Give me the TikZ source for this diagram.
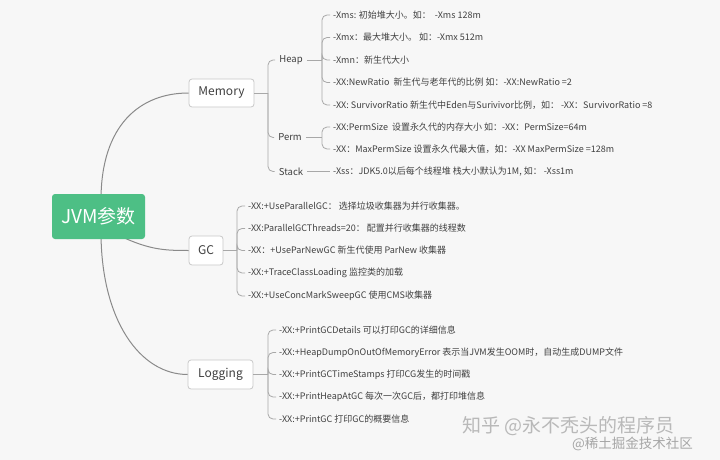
\documentclass[tikz,border=0pt]{standalone}
\usepackage{fontspec}
\setmainfont{Noto Sans CJK SC}
\definecolor{bgc}{HTML}{F7F7F7}
\definecolor{rootc}{HTML}{4DBF85}
\definecolor{linec}{HTML}{8A8A8A}
\definecolor{bracec}{HTML}{A8A8A8}
\definecolor{boxc}{HTML}{C8C8C8}
\definecolor{txtc}{HTML}{404040}
\begin{document}
\begin{tikzpicture}[x=1pt,y=-1pt,
  rootbox/.style={fill=rootc,rounded corners=3pt,minimum width=93pt,minimum height=45pt,text=white,font=\fontsize{19}{19}\selectfont,inner sep=0pt},
  topicbox/.style={fill=white,draw=boxc,line width=0.8pt,rounded corners=3pt,minimum height=28pt,inner sep=0pt,text=txtc,font=\fontsize{12}{12}\selectfont},
  subtopic/.style={text=txtc,font=\fontsize{9.5}{10}\selectfont,inner sep=0pt},
  leaf/.style={anchor=west,text=txtc,font=\fontsize{9}{10}\selectfont,inner xsep=3pt,inner ysep=0pt},
  mainline/.style={draw=linec,line width=1pt},
  brace/.style={draw=bracec,line width=0.8pt,rounded corners=5pt},
  wm/.style={text=gray!55,inner sep=0pt,anchor=west}]
\fill[bgc] (0,0) rectangle (720,460);
\useasboundingbox (0,0) rectangle (720,460);

% connectors from root (drawn first, behind the boxes)
\coordinate (rt) at (101,200);
\coordinate (rb) at (101,232);
\coordinate (rr) at (120,236);
\node[topicbox,minimum width=65pt] (mem) at (221.5,93) {Memory};
\node[topicbox,minimum width=34pt,minimum height=29pt] (gc) at (206,250.5) {GC};
\node[topicbox,minimum width=65pt,minimum height=29pt] (log) at (220.5,374.5) {Logging};
\draw[mainline] (rt) .. controls (101,125) and (140,93) .. (mem.west);
\draw[mainline] (rb) .. controls (101,320) and (140,374.5) .. (log.west);
\draw[mainline] (rr) .. controls (150,250) and (165,250.5) .. (gc.west);
\node[rootbox] (root) at (98.5,216.5) {JVM参数};

% Memory level
\node[subtopic] (heap) at (291,60) {Heap};
\node[subtopic] (perm) at (290,137.5) {Perm};
\node[subtopic] (stack) at (291,171.5) {Stack};
\coordinate (mb) at (268,93);
\draw[mainline,draw=bracec,line width=0.8pt] (mem.east) -- (mb);
\foreach \c in {heap,perm,stack}{\draw[brace] (mb) |- ([xshift=-4pt]\c.west);}

% Heap leaves
\node[leaf] (h1) at (330,15) {-Xms: 初始堆大小。如：\ \ -Xms 128m};
\node[leaf] (h2) at (330,37.5) {-Xmx：最大堆大小。 如：-Xmx 512m};
\node[leaf] (h3) at (330,60) {-Xmn：新生代大小};
\node[leaf] (h4) at (330,82.5) {-XX:NewRatio\ \ 新生代与老年代的比例 如：-XX:NewRatio =2};
\node[leaf] (h5) at (330,105) {-XX: SurvivorRatio 新生代中Eden与Surivivor比例，如：\ -XX：SurvivorRatio =8};
\coordinate (hb) at (322,60);
\draw[brace] ([xshift=4pt]heap.east) -- (hb);
\foreach \c in {h1,h2,h3,h4,h5}{\draw[brace] (hb) |- (\c.west);}

% Perm leaves
\node[leaf] (p1) at (330,127) {-XX:PermSize\ \ 设置永久代的内存大小 如：-XX：PermSize=64m};
\node[leaf] (p2) at (330,149) {-XX：MaxPermSize 设置永久代最大值，如：-XX MaxPermSize =128m};
\coordinate (pb) at (322,137.5);
\draw[brace] ([xshift=4pt]perm.east) -- (pb);
\foreach \c in {p1,p2}{\draw[brace] (pb) |- (\c.west);}

% Stack leaf
\node[leaf] (s1) at (330,171.5) {-Xss：JDK5.0以后每个线程堆 栈大小默认为1M, 如：\ -Xss1m};
\draw[brace] ([xshift=4pt]stack.east) -- (s1.west);

% GC leaves
\node[leaf] (g1) at (245,206) {-XX:+UseParallelGC：\ 选择垃圾收集器为并行收集器。};
\node[leaf] (g2) at (245,228.5) {-XX:ParallelGCThreads=20：\ 配置并行收集器的线程数};
\node[leaf] (g3) at (245,250.5) {-XX：+UseParNewGC 新生代使用 ParNew 收集器};
\node[leaf] (g4) at (245,273) {-XX:+TraceClassLoading 监控类的加载};
\node[leaf] (g5) at (245,296) {-XX:+UseConcMarkSweepGC 使用CMS收集器};
\coordinate (gb) at (237,250.5);
\draw[brace] (gc.east) -- (gb);
\foreach \c in {g1,g2,g3,g4,g5}{\draw[brace] (gb) |- (\c.west);}

% Logging leaves
\node[leaf] (l1) at (276,330) {-XX:+PrintGCDetails 可以打印GC的详细信息};
\node[leaf] (l2) at (276,352.5) {-XX:+HeapDumpOnOutOfMemoryError 表示当JVM发生OOM时，自动生成DUMP文件};
\node[leaf] (l3) at (276,374.5) {-XX:+PrintGCTimeStamps 打印CG发生的时间戳};
\node[leaf] (l4) at (276,397) {-XX:+PrintHeapAtGC 每次一次GC后，都打印堆信息};
\node[leaf] (l5) at (276,419) {-XX:+PrintGC 打印GC的概要信息};
\coordinate (lb) at (268,374.5);
\draw[brace] (log.east) -- (lb);
\foreach \c in {l1,l2,l3,l4,l5}{\draw[brace] (lb) |- (\c.west);}

% watermarks
\node[wm,font=\fontsize{19}{19}\selectfont] (wm1) at (462,426) {知乎 @永不秃头的程序员};
\node[wm,text=gray!70,font=\fontsize{13.5}{14}\selectfont] (wm2) at (572,444) {@稀土掘金技术社区};
\end{tikzpicture}
\end{document}
